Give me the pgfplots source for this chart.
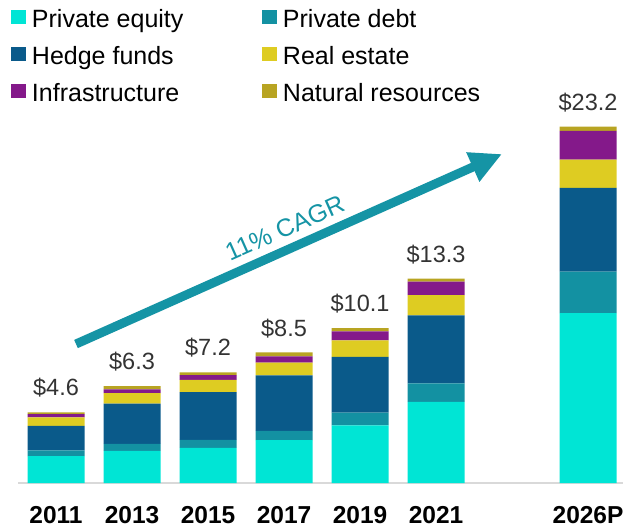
\documentclass[border=0pt]{standalone}
\usepackage{fontspec}
\setmainfont{Liberation Sans}
\usepackage{pgfplots}
\pgfplotsset{compat=1.18}
\usetikzlibrary{arrows.meta}
\definecolor{cPE}{HTML}{00E5D5}
\definecolor{cPD}{HTML}{1391A2}
\definecolor{cHF}{HTML}{0A5A8A}
\definecolor{cRE}{HTML}{DECC22}
\definecolor{cIN}{HTML}{84198A}
\definecolor{cNR}{HTML}{B8A422}
\definecolor{cArrow}{HTML}{1594A5}
\definecolor{cLabel}{HTML}{333333}

\begin{document}
\begin{tikzpicture}
\path[use as bounding box] (-18pt,-44pt) rectangle (605pt,483pt);
\begin{axis}[
    at={(0,0)}, anchor=south west,
    scale only axis,
    width=605pt, height=483pt,
    ybar stacked,
    bar width=0.75,
    xmin=-0.5, xmax=7.46,
    ymin=0, ymax=31.45,
    axis y line=none,
    axis x line=bottom,
    x axis line style={-, draw=black!15, line width=2pt},
    xtick={0,1,2,3,4,5,7},
    xticklabels={2011,2013,2015,2017,2019,2021,2026P},
    major tick length=0pt,
    xticklabel style={font=\bfseries\fontsize{24.5}{29}\selectfont, anchor=base, yshift=-40pt},
    clip=false,
    legend columns=2,
    legend cell align=left,
    legend style={at={(-0.0116,0.9814)}, anchor=north west, draw=none, fill=none,
        inner sep=0pt, outer sep=0pt, column sep=0pt, row sep=17.7pt,
        font=\fontsize{25}{30}\selectfont, nodes={inner sep=0pt}},
    legend image code/.code={\fill[#1] (0pt,-5pt) rectangle (15pt,9pt);},
]
% bottom to top: PE, PD, HF, RE, Infra, NR
\addplot[fill=cPE, draw=none] coordinates {
    (0,1.75) (1,2.09) (2,2.28) (3,2.79) (4,3.76) (5,5.28) (7,11.06)};
\addplot[fill=cPD, draw=none] coordinates {
    (0,0.37) (1,0.45) (2,0.52) (3,0.61) (4,0.83) (5,1.20) (7,2.70)};
\addplot[fill=cHF, draw=none] coordinates {
    (0,1.60) (1,2.63) (2,3.12) (3,3.61) (4,3.63) (5,4.44) (7,5.45)};
\addplot[fill=cRE, draw=none] coordinates {
    (0,0.55) (1,0.69) (2,0.80) (3,0.83) (4,1.06) (5,1.32) (7,1.84)};
\addplot[fill=cIN, draw=none] coordinates {
    (0,0.22) (1,0.24) (2,0.30) (3,0.41) (4,0.59) (5,0.87) (7,1.87)};
\addplot[fill=cNR, draw=none,
    point meta=explicit symbolic,
    nodes near coords={\$\pgfplotspointmeta},
    every node near coord/.append style={anchor=base, yshift=18pt,
        font=\fontsize{23.5}{28}\selectfont, text=cLabel}]
    coordinates {
    (0,0.11) [4.6] (1,0.20) [6.3] (2,0.18) [7.2] (3,0.25) [8.5]
    (4,0.22) [10.1] (5,0.19) [13.3] (7,0.28) [23.2]};
\legend{
    \hspace{6pt}\makebox[230pt][l]{\rule[-6pt]{0pt}{24pt}Private equity},
    \hspace{6pt}\rule[-6pt]{0pt}{24pt}Private debt,
    \hspace{6pt}\makebox[230pt][l]{\rule[-6pt]{0pt}{24pt}Hedge funds},
    \hspace{6pt}\rule[-6pt]{0pt}{24pt}Real estate,
    \hspace{6pt}\makebox[230pt][l]{\rule[-6pt]{0pt}{24pt}Infrastructure},
    \hspace{6pt}\rule[-6pt]{0pt}{24pt}Natural resources}

\draw[color=cArrow, line width=9pt, -{Triangle[length=32pt,width=30pt]}]
    (axis cs:0.263,9.05) -- (axis cs:5.868,21.42);
\node[rotate=24, text=cArrow, font=\fontsize{25}{30}\selectfont]
    at (axis cs:3.01,16.6) {11\% CAGR};
\end{axis}
\end{tikzpicture}
\end{document}
